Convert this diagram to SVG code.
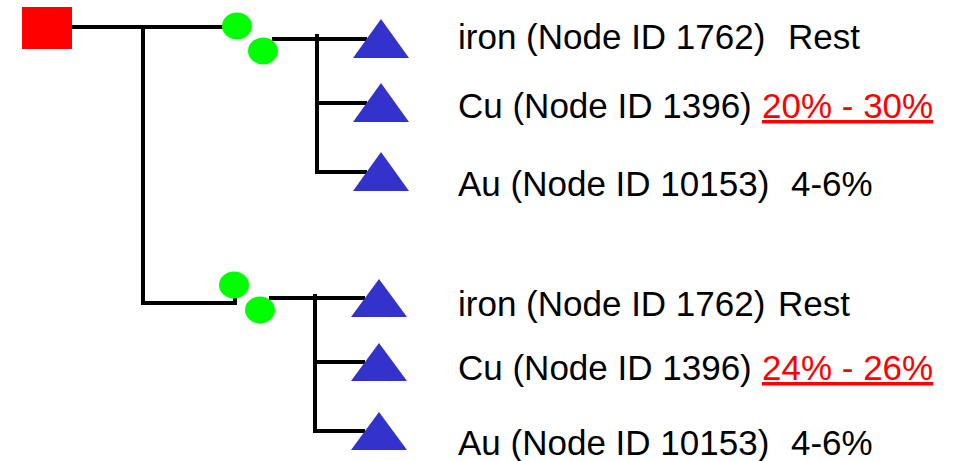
<svg xmlns="http://www.w3.org/2000/svg" width="954" height="461" viewBox="0 0 954 461">
<style>
.ln{stroke:#000;stroke-width:4;fill:none}
.sq{fill:#ff0000}
.el{fill:#00ff00}
.tri{fill:#3333cc}
.t{font-family:"Liberation Sans",Arial,sans-serif;font-size:35px;fill:#000}
.r{fill:#ff0000;text-decoration:underline}
</style>
<rect width="954" height="461" fill="#fff"/>
<g id="connectors">
<path class="ln" d="M72 27H224"/>
<path class="ln" d="M143 27V303H235V296"/>
<path class="ln" d="M272 39H367M317 34V172H367M317 103H367"/>
<path class="ln" d="M269 298H365M315 294V431H365M315 362H365"/>
</g>
<g id="root"><rect class="sq" x="22" y="7" width="50" height="42"/></g>
<g id="g1a"><ellipse class="el" cx="237" cy="26" rx="15" ry="13.5"/></g>
<g id="g1b"><ellipse class="el" cx="263" cy="51" rx="15" ry="13.5"/></g>
<g id="g2a"><ellipse class="el" cx="234" cy="285" rx="15" ry="13.5"/></g>
<g id="g2b"><ellipse class="el" cx="260" cy="310" rx="15" ry="13.5"/></g>
<g id="t1"><polygon class="tri" points="381,19 409,58 353,58"/><text class="t" x="458" y="49">iron (Node ID 1762)<tspan x="788">Rest</tspan></text></g>
<g id="t2"><polygon class="tri" points="381,83 409,122 353,122"/><text class="t" x="458" y="118">Cu (Node ID 1396) <tspan class="r" x="762">20% - 30%</tspan></text></g>
<g id="t3"><polygon class="tri" points="381,152 409,191 353,191"/><text class="t" x="458" y="196">Au (Node ID 10153)<tspan x="791">4-6%</tspan></text></g>
<g id="t4"><polygon class="tri" points="379,279 407,317 351,317"/><text class="t" x="458" y="316">iron (Node ID 1762)<tspan x="778">Rest</tspan></text></g>
<g id="t5"><polygon class="tri" points="379,343 407,381 351,381"/><text class="t" x="458" y="380">Cu (Node ID 1396) <tspan class="r" x="762">24% - 26%</tspan></text></g>
<g id="t6"><polygon class="tri" points="379,412 407,450 351,450"/><text class="t" x="458" y="455">Au (Node ID 10153)<tspan x="791">4-6%</tspan></text></g>
</svg>
